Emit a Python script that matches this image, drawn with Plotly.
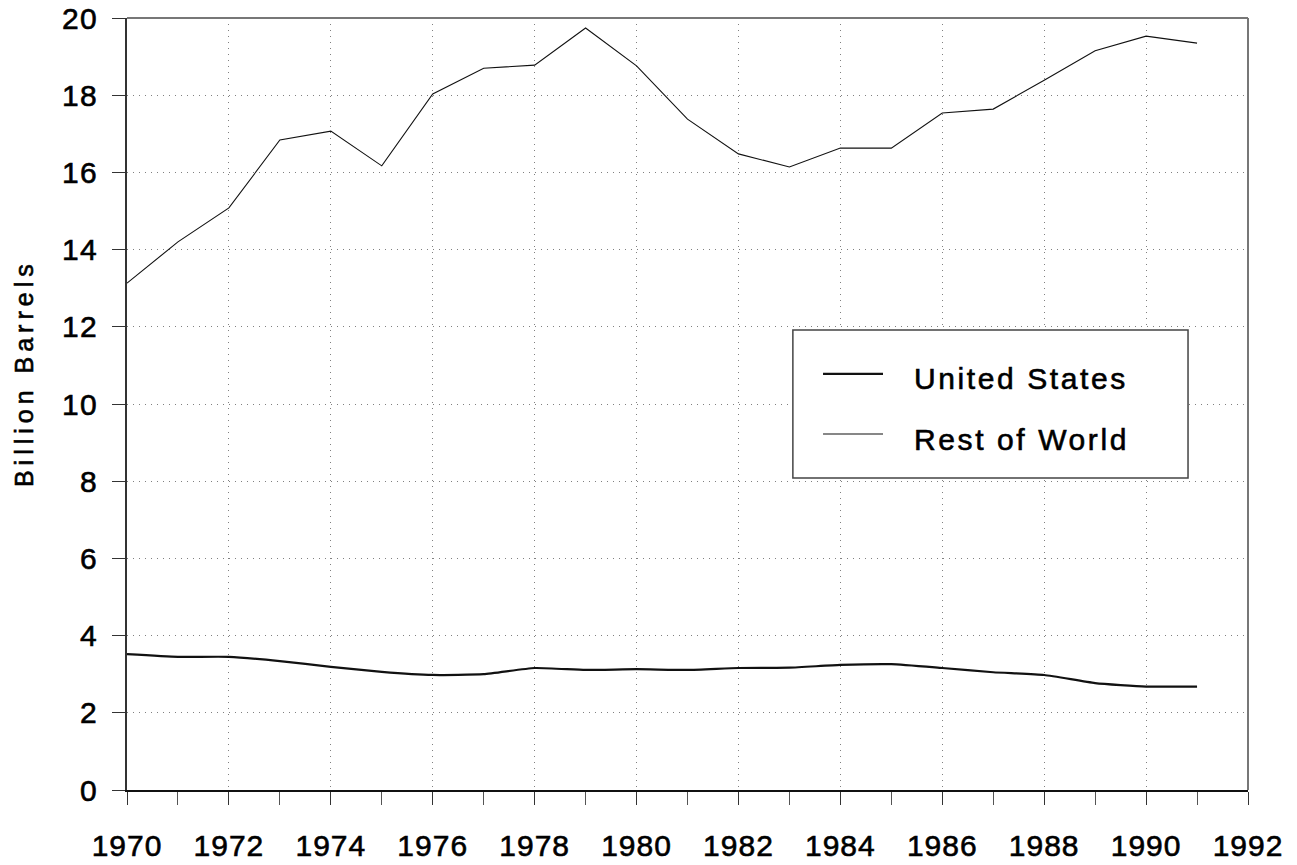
import plotly.graph_objects as go

# Annual petroleum consumption, billion barrels
years = list(range(1970, 1992))
united_states = [3.52, 3.45, 3.45, 3.34, 3.19, 3.06, 2.98, 3.00, 3.16, 3.11, 3.13,
                 3.11, 3.16, 3.17, 3.24, 3.26, 3.16, 3.05, 2.98, 2.77, 2.68, 2.68]
rest_of_world = [13.13, 14.20, 15.08, 16.84, 17.07, 16.17, 18.03, 18.70, 18.78, 19.74, 18.76,
                 17.38, 16.48, 16.14, 16.63, 16.63, 17.54, 17.64, 18.39, 19.15, 19.53, 19.35]

x_ticks = list(range(1970, 1993, 2))
y_ticks = list(range(0, 21, 2))
series_names = ["United States", "Rest of World"]
y_title = "Billion Barrels"

FONT = "Liberation Sans, Arial, sans-serif"
GRID = "#808080"


def styled(text, spacing):
    # slightly heavier strokes plus extra tracking for all chart text
    return (f'<span style="stroke:black;stroke-width:0.6px;letter-spacing:{spacing}px">'
            f'{text}</span>')


fig = go.Figure()
fig.add_trace(go.Scatter(x=years, y=united_states, mode="lines", name=series_names[0],
                         line=dict(color="#111111", width=2.2, shape="spline", smoothing=0.5),
                         showlegend=False))
fig.add_trace(go.Scatter(x=years, y=rest_of_world, mode="lines", name=series_names[1],
                         line=dict(color="#111111", width=1.1),
                         showlegend=False))

fig.update_layout(
    width=1297, height=865,
    margin=dict(l=127, r=49, t=18, b=75, autoexpand=False),
    paper_bgcolor="white", plot_bgcolor="white",
    font=dict(family=FONT, size=30, color="black"),
    showlegend=False,
)

fig.update_xaxes(
    range=[1970, 1992], tickvals=x_ticks, ticktext=[styled(v, 1) for v in x_ticks],
    automargin=False,
    showline=True, linecolor="#111111", linewidth=1.5,
    ticks="outside", ticklen=13, tickcolor="#333333", tickwidth=1,
    minor=dict(dtick=1, ticks="outside", ticklen=13, tickcolor="#555555", tickwidth=1, showgrid=False),
    showgrid=True, gridcolor=GRID, gridwidth=1, griddash="1px,5px",
    ticklabelstandoff=15, zeroline=False,
    tickfont=dict(family=FONT, size=30, color="black"),
)
fig.update_yaxes(
    range=[0, 20], tickvals=y_ticks, ticktext=[styled(v, 1.5) for v in y_ticks],
    automargin=False,
    showline=True, linecolor="#333333", linewidth=1.5,
    ticks="outside", ticklen=13, tickcolor="#333333", tickwidth=1,
    showgrid=True, gridcolor=GRID, gridwidth=1, griddash="1px,5px",
    ticklabelstandoff=8, zeroline=False,
    tickfont=dict(family=FONT, size=30, color="black"),
)

# y-axis title, placed a little above the plot's vertical centre
fig.add_annotation(xref="paper", yref="paper", x=-0.0919, y=0.540, xanchor="center", yanchor="middle",
                   text=styled(y_title, 5), textangle=-90, showarrow=False,
                   font=dict(family=FONT, size=25, color="black"))

# top and right frame edges
fig.add_shape(type="line", xref="paper", yref="paper", x0=0, x1=1, y0=1, y1=1,
              line=dict(color="#777777", width=2))
fig.add_shape(type="line", xref="paper", yref="paper", x0=1, x1=1, y0=0, y1=1,
              line=dict(color="#777777", width=2))

# legend box with line samples
fig.add_shape(type="rect", xref="paper", yref="paper", x0=0.594, x1=0.9465, y0=0.4041, y1=0.5959,
              line=dict(color="#444444", width=1.5), fillcolor="white", layer="above")
legend_rows = [(0.5389, 0.5324, 2.2), (0.4611, 0.4534, 1.1)]
for name, (ly, ty, lw) in zip(series_names, legend_rows):
    fig.add_shape(type="line", xref="paper", yref="paper", x0=0.6209, x1=0.6744, y0=ly, y1=ly,
                  line=dict(color="#111111", width=lw), layer="above")
    fig.add_annotation(xref="paper", yref="paper", x=0.7003, y=ty, xanchor="left", yanchor="middle",
                       text=styled(name, 2.6), showarrow=False,
                       font=dict(family=FONT, size=30, color="black"))

fig.write_html("out.html")
